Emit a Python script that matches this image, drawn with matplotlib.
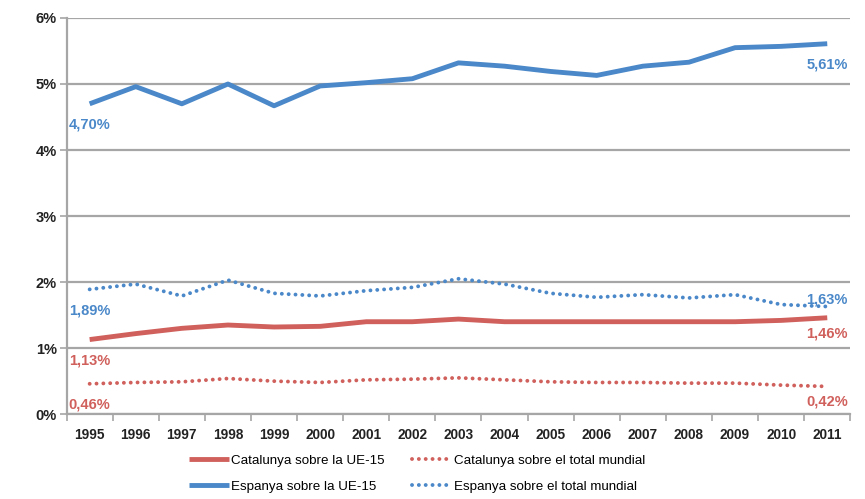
import numpy as np
import matplotlib
matplotlib.use("Agg")
import matplotlib.pyplot as plt

years = [str(y) for y in range(1995, 2012)]
cat_ue15 = [1.13, 1.22, 1.30, 1.35, 1.32, 1.33, 1.40, 1.40, 1.44, 1.40, 1.40, 1.40, 1.40, 1.40, 1.40, 1.42, 1.46]
cat_mon = [0.46, 0.48, 0.49, 0.54, 0.50, 0.48, 0.52, 0.53, 0.55, 0.52, 0.49, 0.48, 0.48, 0.47, 0.47, 0.44, 0.42]
esp_ue15 = [4.70, 4.96, 4.70, 5.00, 4.67, 4.97, 5.02, 5.08, 5.32, 5.27, 5.19, 5.13, 5.27, 5.33, 5.55, 5.57, 5.61]
esp_mon = [1.89, 1.97, 1.79, 2.03, 1.83, 1.79, 1.87, 1.92, 2.05, 1.97, 1.83, 1.77, 1.81, 1.76, 1.81, 1.66, 1.63]
yticks = [0, 1, 2, 3, 4, 5, 6]
labels = ["Catalunya sobre la UE-15", "Espanya sobre la UE-15",
          "Catalunya sobre el total mundial", "Espanya sobre el total mundial"]

RED = "#d0605c"
BLUE = "#4a88c9"
GRID = "#a6a6a6"

plt.rcParams['font.family'] = ['Liberation Sans', 'DejaVu Sans']
fig = plt.figure(figsize=(8.65, 4.99), dpi=100)
ax = fig.add_axes([0.077, 0.170, 0.906, 0.794])

x = np.arange(len(years))
DOT = (0, (0.01, 1.75))
l1, = ax.plot(x, cat_ue15, color=RED, lw=3.5, solid_capstyle='butt', zorder=3)
l2, = ax.plot(x, esp_ue15, color=BLUE, lw=3.5, solid_capstyle='butt', zorder=3)
l3, = ax.plot(x, cat_mon, color=RED, lw=2.8, ls=DOT, dash_capstyle='round', zorder=3)
l4, = ax.plot(x, esp_mon, color=BLUE, lw=2.8, ls=DOT, dash_capstyle='round', zorder=3)

ax.set_xlim(-0.5, len(years) - 0.5)
ax.set_ylim(0, 6)
ax.set_yticks(yticks)
ax.set_yticklabels([f"{v}%" for v in yticks], fontsize=10.5, fontweight='bold', color='#222222')
ax.yaxis.grid(True, color=GRID, lw=1.6, zorder=0)
ax.tick_params(axis='y', length=5, width=1.2, color=GRID, pad=2)

ax.set_xticks(np.arange(-0.5, len(years), 1))
ax.set_xticklabels([])
ax.set_xticks(x, minor=True)
ax.set_xticklabels(years, minor=True, fontsize=9.8, fontweight='bold', color='#222222')
ax.tick_params(axis='x', which='major', length=5, width=1.2, color=GRID)
ax.tick_params(axis='x', which='minor', length=0, pad=10)

for s in ['top', 'right']:
    ax.spines[s].set_visible(False)
for s in ['left', 'bottom']:
    ax.spines[s].set_color(GRID)
    ax.spines[s].set_linewidth(1.6)

def lab(xi, yv, dy, col, ha='center'):
    ax.annotate(f"{yv:.2f}%".replace('.', ','), (xi, yv), xytext=(0, dy), textcoords='offset points',
                ha=ha, va='center', color=col, fontsize=10.5, fontweight='bold')

n = len(years) - 1
lab(0, esp_ue15[0], -15, BLUE)
lab(0, esp_mon[0], -15, BLUE)
lab(0, cat_ue15[0], -15, RED)
lab(0, cat_mon[0], -15, RED)
lab(n, esp_ue15[n], -15, BLUE)
lab(n, esp_mon[n], 5, BLUE)
lab(n, cat_ue15[n], -11, RED)
lab(n, cat_mon[n], -11, RED)

fig.legend([l1, l2, l3, l4], labels, ncol=2, loc='lower left', bbox_to_anchor=(0.205, -0.012),
           frameon=False, fontsize=9.6, handlelength=3.0, handletextpad=0.15,
           columnspacing=2.0, labelspacing=1.05)

fig.savefig("out.png", dpi=100)
